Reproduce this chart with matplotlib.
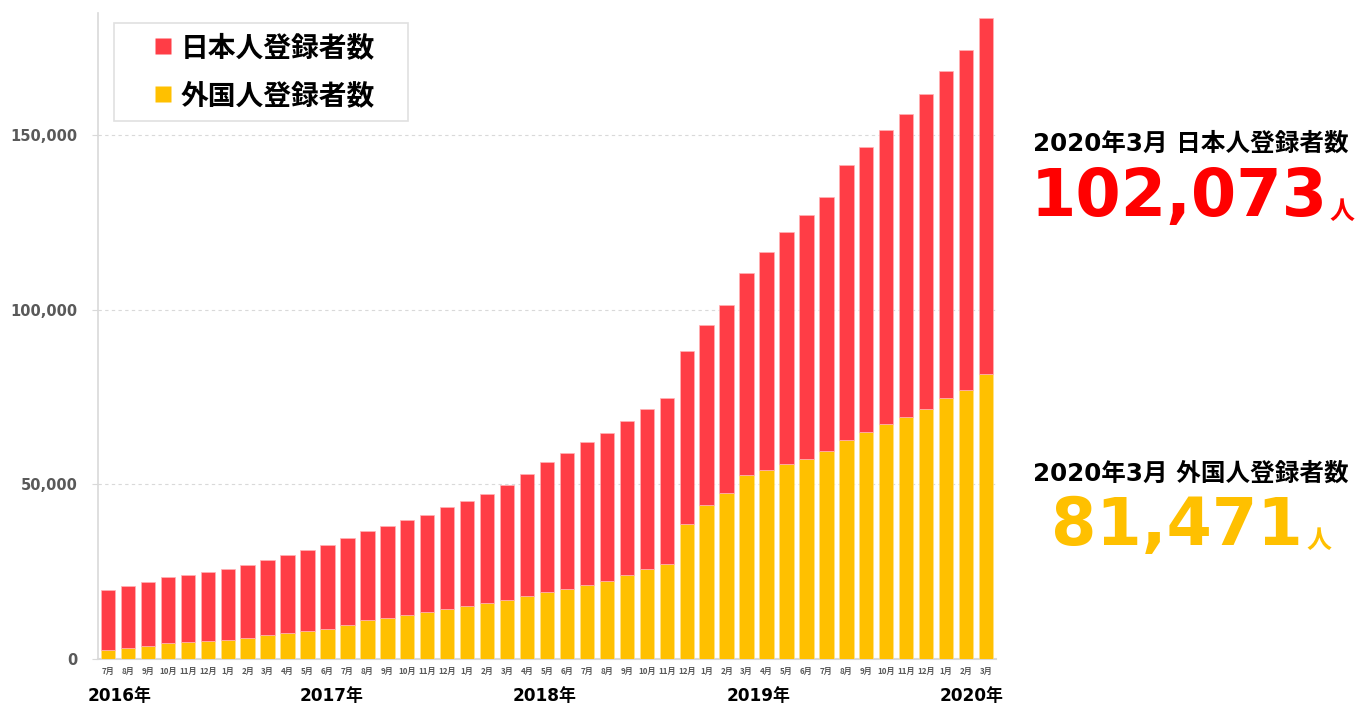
import matplotlib
matplotlib.use("Agg")
import matplotlib.pyplot as plt
import matplotlib.transforms as mtransforms
from matplotlib.lines import Line2D
from matplotlib.ticker import FuncFormatter, MultipleLocator

plt.rcParams['font.family'] = ['DejaVu Sans', 'Noto Sans CJK JP']

# ---- data ----
months = ["7月", "8月", "9月", "10月", "11月", "12月",
          "1月", "2月", "3月", "4月", "5月", "6月", "7月", "8月", "9月", "10月", "11月", "12月",
          "1月", "2月", "3月", "4月", "5月", "6月", "7月", "8月", "9月", "10月", "11月", "12月",
          "1月", "2月", "3月", "4月", "5月", "6月", "7月", "8月", "9月", "10月", "11月", "12月",
          "1月", "2月", "3月"]

foreign = [2580, 3150, 3810, 4580, 4870, 5060,
           5530, 6100, 6780, 7440, 8100, 8680, 9730, 11070, 11650, 12500, 13370, 14220,
           15260, 16110, 16800, 18030, 19090, 19950, 21180, 22410, 24130, 25840, 27190, 38640,
           44160, 47420, 52750, 54000, 55900, 57330, 59530, 62760, 65050, 67170, 69350, 71640,
           74610, 76990, 81471]

japanese = [17170, 17650, 18230, 18800, 19080, 19750,
            20140, 20890, 21460, 22320, 23100, 24030, 24900, 25470, 26410, 27280, 27840, 29190,
            30050, 31070, 32900, 34870, 37200, 39100, 40830, 42360, 43900, 45800, 47420, 49600,
            51520, 54030, 57640, 62580, 66220, 69660, 72780, 78530, 81480, 84230, 86720, 90150,
            93680, 97220, 102073]

year_labels = ["2016年", "2017年", "2018年", "2019年", "2020年"]
year_label_pos = [0.56, 11.2, 21.9, 32.6, 43.3]

series_names = ["日本人登録者数", "外国人登録者数"]
summary_title = "2020年3月"
summary_jp = "102,073"
summary_fr = "81,471"

RED = "#FF3D46"
YEL = "#FFC000"
GRID = "#D9D9D9"
TXT = "#595959"

W, H = 1369, 707
fig = plt.figure(figsize=(W / 100, H / 100), dpi=100)
ax = fig.add_axes([98 / W, 48 / H, 898 / W, 646.3 / H])

x = list(range(len(months)))
b1 = ax.bar(x, foreign, width=0.72, color=YEL, edgecolor="#FFE28A", linewidth=0.5,
            label=series_names[1], zorder=3)
b2 = ax.bar(x, japanese, width=0.72, bottom=foreign, color=RED, edgecolor="#FFB3B6",
            linewidth=0.5, label=series_names[0], zorder=3)

ax.set_xlim(-0.5, len(months) - 0.5)
ax.set_ylim(0, 185000)
ax.yaxis.set_major_locator(MultipleLocator(50000))
ax.yaxis.set_major_formatter(FuncFormatter(lambda v, p: f"{int(v):,}"))
ax.grid(axis="y", color=GRID, linestyle=(0, (3, 3)), linewidth=0.8, zorder=0)

for s in ["top", "right"]:
    ax.spines[s].set_visible(False)
ax.spines["left"].set_color(GRID)
ax.spines["left"].set_linewidth(1.2)
ax.spines["bottom"].set_color(GRID)
ax.spines["bottom"].set_linewidth(1.5)

ax.tick_params(axis="y", length=4.5, color=GRID, pad=10, labelsize=10.5, labelcolor=TXT)
for lab in ax.get_yticklabels():
    lab.set_fontweight("bold")

ax.set_xticks(x)
ax.set_xticklabels(months, family=["Noto Sans CJK JP"], fontsize=5.8, fontweight="bold", color=TXT)
ax.tick_params(axis="x", length=0, pad=6)

trans = mtransforms.blended_transform_factory(ax.transData, ax.transAxes)
for lbl, pos in zip(year_labels, year_label_pos):
    ax.text(pos, -0.057, lbl, transform=trans, ha="center", va="center",
            fontsize=12.2, fontweight="bold", color="black",
            family=["DejaVu Sans", "Noto Sans CJK JP"])

handles = [Line2D([], [], linestyle="none", marker="s", markersize=11.5,
                  markerfacecolor=RED, markeredgecolor="none"),
           Line2D([], [], linestyle="none", marker="s", markersize=11.5,
                  markerfacecolor=YEL, markeredgecolor="none")]
leg = ax.legend(handles=handles, labels=series_names,
                loc="upper left", bbox_to_anchor=(0.0178, 0.8325, 0.3274, 0.1516),
                mode="expand", borderaxespad=0, fancybox=False,
                prop={"family": "Noto Sans CJK JP", "weight": "bold", "size": 20},
                handlelength=2.75, handletextpad=-0.75,
                labelspacing=0.72, borderpad=0.4)
leg.get_frame().set_edgecolor(GRID)
leg.get_frame().set_linewidth(1.2)

def fx(px):
    return px / W

def fy(py):
    return 1 - py / H

fam = ["DejaVu Sans", "Noto Sans CJK JP"]
fig.text(fx(1033), fy(151), f"{summary_title} {series_names[0]}", ha="left", va="baseline",
         fontsize=17.7, fontweight="bold", color="black", family=fam)
fig.text(fx(1179.5), fy(216), summary_jp, ha="center", va="baseline",
         fontsize=47, fontweight="bold", color="#FF0000", family="DejaVu Sans")
fig.text(fx(1342), fy(219), "人", ha="center", va="baseline",
         fontsize=18, fontweight="bold", color="#FF0000", family="Noto Sans CJK JP")

fig.text(fx(1033), fy(481), f"{summary_title} {series_names[1]}", ha="left", va="baseline",
         fontsize=17.7, fontweight="bold", color="black", family=fam)
fig.text(fx(1176.5), fy(545), summary_fr, ha="center", va="baseline",
         fontsize=47, fontweight="bold", color=YEL, family="DejaVu Sans")
fig.text(fx(1319), fy(548), "人", ha="center", va="baseline",
         fontsize=18, fontweight="bold", color=YEL, family="Noto Sans CJK JP")

fig.savefig("out.png", dpi=100, facecolor="white")
